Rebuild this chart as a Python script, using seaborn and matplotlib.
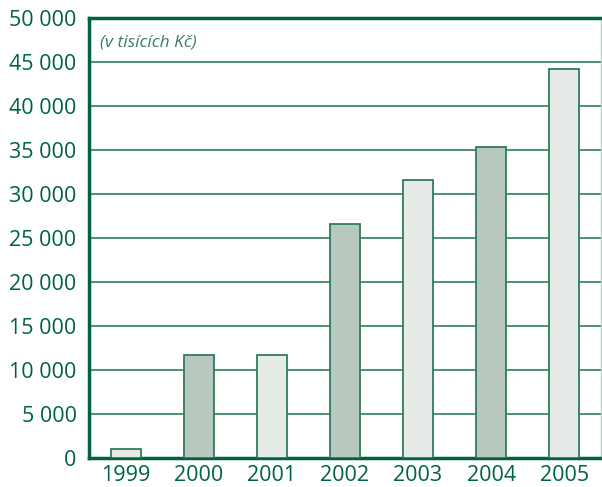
import matplotlib
matplotlib.use('Agg')
from matplotlib import pyplot as plt
from matplotlib.ticker import FuncFormatter, FixedLocator
import seaborn as sns
import pandas as pd

# Data (v tisících Kč)
years = ['1999', '2000', '2001', '2002', '2003', '2004', '2005']
values = [1000, 11700, 11700, 26600, 31600, 35300, 44200]
bar_colors = ['#e5ece8', '#b5cbbf', '#e5ece8', '#b5cbbf', '#e5ece8', '#b5cbbf', '#e5ece8']

green = '#00633f'
edge = '#2f7c5c'
grid = '#3d8a68'

df = pd.DataFrame({'year': years, 'value': values})

sns.set_style('white')
plt.rcParams['font.family'] = ['Open Sans', 'DejaVu Sans']

fig = plt.figure(figsize=(6.02, 4.87), dpi=100)
ax = fig.add_axes([0.148, 0.0595, 0.85, 0.904])

sns.barplot(x='year', y='value', hue='year', data=df,
            palette=bar_colors, width=0.41, edgecolor=edge, linewidth=1.3,
            legend=False, ax=ax, zorder=3)

ax.set_ylim(0, 50000)
ax.set_xlim(-0.5, 6.5)
ax.set_yticks(range(0, 50001, 5000))
ax.yaxis.set_major_formatter(FuncFormatter(lambda v, p: f'{int(v):,}'.replace(',', ' ')))
ax.yaxis.grid(True, color=grid, linewidth=1.3, zorder=0)
ax.set_axisbelow(True)

# x ticks at category boundaries, labels at centres
ax.set_xticks([i - 0.5 for i in range(8)])
ax.set_xticklabels([])
ax.xaxis.set_minor_locator(FixedLocator(range(7)))
ax.set_xticklabels(years, minor=True)
ax.tick_params(axis='x', which='major', length=6, width=2, color=green, direction='out')
ax.tick_params(axis='x', which='minor', length=0, pad=5, labelsize=15.5, labelcolor=green)
ax.tick_params(axis='y', length=6, width=2, color=green, direction='out',
               labelsize=15.5, labelcolor=green, pad=3)

for side in ['left', 'bottom', 'top']:
    ax.spines[side].set_color(green)
    ax.spines[side].set_linewidth(2.5)
ax.spines['right'].set_color('#b5cbbf')
ax.spines['right'].set_linewidth(1)

ax.set_xlabel('')
ax.set_ylabel('')

ax.text(0.022, 0.944, '(v tisících Kč)', transform=ax.transAxes, style='italic',
        fontsize=12.5, color='#3a7d5e', va='center', ha='left')

fig.savefig('out.png', dpi=100)
